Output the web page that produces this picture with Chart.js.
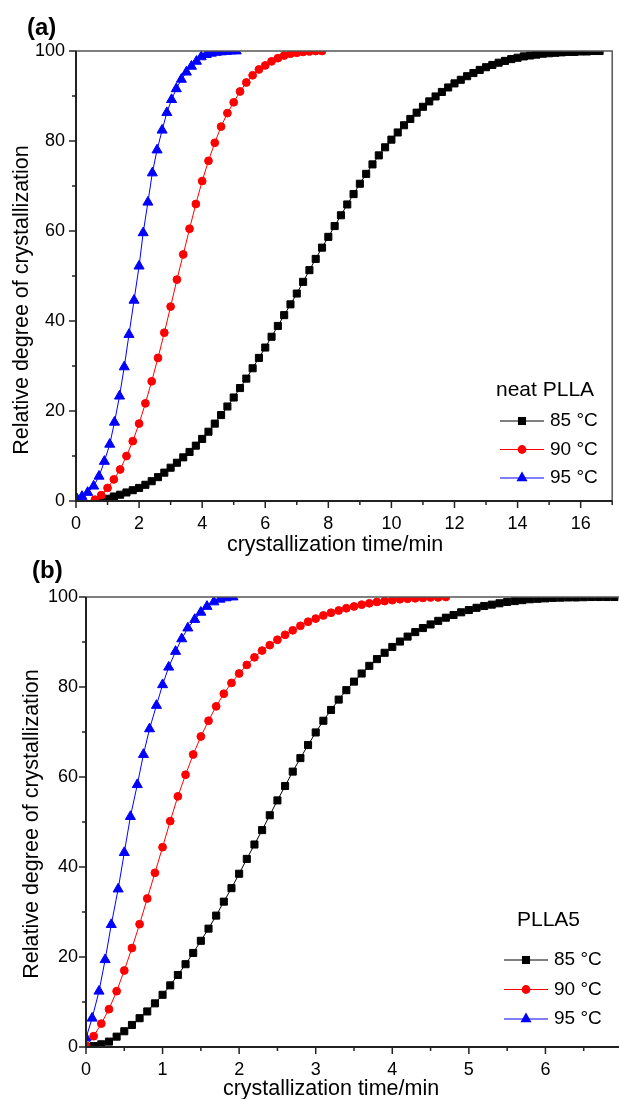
<!DOCTYPE html>
<html>
<head>
<meta charset="utf-8">
<title>Relative degree of crystallization</title>
<script src="https://cdn.jsdelivr.net/npm/chart.js@4.4.1/dist/chart.umd.min.js"></script>
<style>
  html, body { margin: 0; padding: 0; background: #fff; overflow: hidden; }
  body { width: 619px; height: 1099px; position: relative; font-family: "Liberation Sans", Arial, sans-serif; }
  canvas { position: absolute; left: 0; }
  #ca { top: 0; }
  #cb { top: 560px; }
  .tag { position: absolute; font-weight: bold; font-size: 24px; line-height: 24px; z-index: 2; }
</style>
</head>
<body>
<div class="tag" style="left:27px; top:15px;">(a)</div>
<div class="tag" style="left:32px; top:558px;">(b)</div>
<canvas id="ca" width="619" height="560"></canvas>
<canvas id="cb" width="630" height="560"></canvas>
<script>
// ---- data ----
const seriesLabels = ['85 °C', '90 °C', '95 °C'];
const xTitle = 'crystallization time/min';
const yTitle = 'Relative degree of crystallization';

// (a) neat PLLA
const tA85 = [0.8,1.0,1.2,1.4,1.6,1.8,2.0,2.2,2.4,2.6,2.8,3.0,3.2,3.4,3.6,3.8,4.0,4.2,4.4,4.6,
  4.8,5.0,5.2,5.4,5.6,5.8,6.0,6.2,6.4,6.6,6.8,7.0,7.2,7.4,7.6,7.8,8.0,8.2,8.4,8.6,
  8.8,9.0,9.2,9.4,9.6,9.8,10.0,10.2,10.4,10.6,10.8,11.0,11.2,11.4,11.6,11.8,12.0,12.2,12.4,12.6,
  12.8,13.0,13.2,13.4,13.6,13.8,14.0,14.2,14.4,14.6,14.8,15.0,15.2,15.4,15.6,15.8,16.0,16.2,16.4,16.6];
const yA85 = [0.2,0.5,1.0,1.4,1.9,2.4,2.9,3.6,4.4,5.3,6.3,7.4,8.5,9.7,10.9,12.3,13.8,15.4,17.2,19.1,
  21.0,23.0,25.1,27.2,29.5,31.8,34.1,36.5,38.9,41.3,43.7,46.1,48.7,51.3,53.8,56.3,58.7,61.1,63.5,65.9,
  68.2,70.5,72.7,74.8,76.8,78.6,80.3,81.9,83.5,84.9,86.3,87.6,88.8,89.9,90.9,91.9,92.8,93.6,94.4,95.1,
  95.8,96.4,96.9,97.4,97.8,98.2,98.5,98.8,99.0,99.2,99.4,99.5,99.6,99.7,99.8,99.8,99.9,99.9,100,100];
const tA90 = [0.6,0.8,1.0,1.2,1.4,1.6,1.8,2.0,2.2,2.4,2.6,2.8,3.0,3.2,3.4,3.6,3.8,4.0,4.2,4.4,
  4.6,4.8,5.0,5.2,5.4,5.6,5.8,6.0,6.2,6.4,6.6,6.8,7.0,7.2,7.4,7.6,7.8];
const yA90 = [0.3,1.3,2.9,4.8,7.0,10.0,13.3,17.2,21.7,26.6,31.8,37.4,43.2,49.2,54.8,60.5,66.0,71.1,75.6,79.6,
  83.2,86.2,88.6,91.0,93.0,94.6,95.9,96.8,97.7,98.4,99.0,99.4,99.6,99.8,99.9,100,100];
const tA95 = [0.03,0.19,0.37,0.56,0.73,0.90,1.07,1.22,1.38,1.53,1.68,1.84,2.0,2.13,2.28,2.42,2.57,
  2.73,2.88,3.03,3.18,3.34,3.50,3.66,3.82,3.97,4.13,4.29,4.45,4.61,4.77,4.93,5.08];
const yA95 = [0.5,1.0,1.9,3.3,5.5,8.8,12.6,17.5,23.3,29.8,37.0,44.6,52.2,59.6,66.4,72.9,78.0,
  82.4,86.3,89.2,91.6,93.7,95.3,96.6,97.7,98.7,99.2,99.5,99.7,99.8,99.9,100,100];

// (b) PLLA5
const tB85 = [0.0,0.1,0.2,0.3,0.4,0.5,0.6,0.7,0.8,0.9,1.0,1.1,1.2,1.3,1.4,1.5,1.6,1.7,1.8,1.9,
  2.0,2.1,2.2,2.3,2.4,2.5,2.6,2.7,2.8,2.9,3.0,3.1,3.2,3.3,3.4,3.5,3.6,3.7,3.8,3.9,
  4.0,4.1,4.2,4.3,4.4,4.5,4.6,4.7,4.8,4.9,5.0,5.1,5.2,5.3,5.4,5.5,5.6,5.7,5.8,5.9,
  6.0,6.1,6.2,6.3,6.4,6.5,6.6,6.7,6.8,6.9];
const yB85 = [0.0,0.2,0.6,1.2,2.3,3.5,4.9,6.4,7.9,9.7,11.6,13.7,16.0,18.4,20.9,23.6,26.3,29.2,32.3,35.3,
  38.5,41.8,45.0,48.2,51.5,54.8,58.0,61.2,64.2,67.1,69.9,72.5,74.9,77.2,79.3,81.2,83.0,84.7,86.2,87.6,
  88.9,90.1,91.2,92.2,93.1,93.9,94.7,95.4,96.0,96.6,97.1,97.6,98.0,98.3,98.6,98.9,99.1,99.3,99.5,99.6,
  99.7,99.8,99.85,99.9,99.9,99.95,100,100,100,100];
const tB90 = [0.0,0.1,0.2,0.3,0.4,0.5,0.6,0.7,0.8,0.9,1.0,1.1,1.2,1.3,1.4,1.5,1.6,1.7,1.8,1.9,
  2.0,2.1,2.2,2.3,2.4,2.5,2.6,2.7,2.8,2.9,3.0,3.1,3.2,3.3,3.4,3.5,3.6,3.7,3.8,3.9,
  4.0,4.1,4.2,4.3,4.4,4.5,4.6,4.7];
const yB90 = [0.3,2.4,5.2,8.4,12.4,17.0,22.0,27.3,33.0,38.7,44.4,50.2,55.7,60.5,65.0,69.0,72.5,75.7,78.5,80.9,
  83.0,84.9,86.6,88.1,89.3,90.5,91.6,92.6,93.6,94.5,95.2,95.9,96.5,97.0,97.5,97.9,98.3,98.6,98.9,99.1,
  99.3,99.5,99.6,99.7,99.8,99.9,99.9,100];
const tB95 = [0,0.08,0.17,0.25,0.33,0.42,0.5,0.58,0.67,0.75,0.83,0.92,1.0,1.08,1.17,1.25,1.33,1.42,1.5,1.58,
  1.67,1.75,1.83,1.92];
const yB95 = [2.0,6.4,12.4,19.4,27.2,35.1,43.2,51.2,58.3,65.0,70.7,75.9,80.5,84.4,87.9,90.7,93.1,95.0,96.6,97.9,
  98.9,99.5,99.8,100];

// axis ticks
const xTicksA = [0, 2, 4, 6, 8, 10, 12, 14, 16];
const xTicksB = [0, 1, 2, 3, 4, 5, 6];
const yTicks = [0, 20, 40, 60, 80, 100];

// ---- drawing ----
const FONT = '"Liberation Sans", Arial, sans-serif';
Chart.defaults.font.family = FONT;
Chart.defaults.color = '#000';

const styles = [
  { color: '#000000', point: 'rect', r: 5.0 },
  { color: '#ff0000', point: 'circle', r: 3.9 },
  { color: '#0000ff', point: 'triangle', r: 5.8 }
];

function mark(ctx, s, x, y) {
  ctx.fillStyle = s.color;
  ctx.beginPath();
  if (s.point === 'rect') {
    const h = s.r * Math.SQRT1_2 + 0.5;
    ctx.rect(x - h, y - h, 2 * h, 2 * h);
  } else if (s.point === 'triangle') {
    const r = s.r + 0.6;
    ctx.moveTo(x, y - r);
    ctx.lineTo(x + r * 0.866, y + r / 2);
    ctx.lineTo(x - r * 0.866, y + r / 2);
    ctx.closePath();
  } else {
    ctx.arc(x, y, s.r + 0.5, 0, Math.PI * 2);
  }
  ctx.fill();
}

// axes, frame, minor/major tick marks, axis titles and the in-plot legend
const frame = {
  id: 'frame',
  afterDraw(chart, args, o) {
    const { ctx, chartArea: a, scales: { x, y } } = chart;
    ctx.save();
    ctx.strokeStyle = '#555';
    ctx.lineWidth = 1.5;
    ctx.beginPath();
    ctx.moveTo(a.left, a.top);
    ctx.lineTo(a.right, a.top);
    ctx.lineTo(a.right, a.bottom);
    ctx.stroke();

    ctx.strokeStyle = '#222';
    ctx.lineWidth = 2;
    ctx.beginPath();
    ctx.moveTo(a.left, a.top);
    ctx.lineTo(a.left, a.bottom);
    ctx.lineTo(a.right, a.bottom);
    ctx.stroke();

    ctx.lineWidth = 1.5;
    const nx = Math.round((x.max - x.min) / o.xMinor);
    for (let i = 0; i <= nx; i++) {
      const v = x.min + i * o.xMinor;
      const major = Math.abs(v / o.xMajor - Math.round(v / o.xMajor)) < 1e-6;
      const px = x.getPixelForValue(v);
      ctx.beginPath();
      ctx.moveTo(px, a.bottom);
      ctx.lineTo(px, a.bottom + (major ? o.major : o.minor));
      ctx.stroke();
    }
    const ny = Math.round((y.max - y.min) / o.yMinor);
    for (let i = 0; i <= ny; i++) {
      const v = y.min + i * o.yMinor;
      const major = Math.abs(v / o.yMajor - Math.round(v / o.yMajor)) < 1e-6;
      const py = y.getPixelForValue(v);
      ctx.beginPath();
      ctx.moveTo(a.left, py);
      ctx.lineTo(a.left - (major ? o.major : o.minor), py);
      ctx.stroke();
    }

    // axis titles
    ctx.fillStyle = '#000';
    ctx.textBaseline = 'middle';
    ctx.textAlign = 'center';
    ctx.font = '21.5px ' + FONT;
    ctx.fillText(xTitle, o.xTitle[0], o.xTitle[1]);
    ctx.save();
    ctx.translate(o.yTitle[0], o.yTitle[1]);
    ctx.rotate(-Math.PI / 2);
    ctx.fillText(yTitle, 0, 0);
    ctx.restore();

    const lg = o.legend;
    ctx.textAlign = 'left';
    ctx.font = '21px ' + FONT;
    ctx.fillText(lg.title, lg.titleX, lg.titleY);
    ctx.font = '19px ' + FONT;
    chart.data.datasets.forEach((d, i) => {
      const ry = lg.rows[i];
      ctx.strokeStyle = d.borderColor;
      ctx.lineWidth = 1;
      ctx.beginPath();
      ctx.moveTo(lg.x0, ry);
      ctx.lineTo(lg.x1, ry);
      ctx.stroke();
      mark(ctx, styles[i], (lg.x0 + lg.x1) / 2, ry);
      ctx.fillStyle = '#000';
      ctx.fillText(d.label, lg.textX, ry);
    });
    ctx.restore();
  }
};

function makeChart(id, c) {
  const datasets = c.series.map((s, i) => ({
    label: seriesLabels[i],
    data: s.t.map((t, k) => ({ x: t, y: s.y[k] })),
    borderColor: styles[i].color,
    backgroundColor: styles[i].color,
    borderWidth: 1,
    pointStyle: styles[i].point,
    pointRadius: styles[i].r,
    pointBorderWidth: 1,
    pointBorderColor: styles[i].color,
    pointBackgroundColor: styles[i].color,
    tension: 0,
    order: 3 - i
  }));
  return new Chart(document.getElementById(id), {
    type: 'line',
    data: { datasets },
    options: {
      responsive: false,
      animation: false,
      events: [],
      layout: { padding: c.pad },
      plugins: { legend: { display: false }, tooltip: { enabled: false }, frame: c.frame },
      scales: {
        x: {
          type: 'linear', min: 0, max: c.xMax,
          afterFit: s => { s.height = c.xH; },
          afterBuildTicks: s => { s.ticks = c.xTicks.map(v => ({ value: v })); },
          grid: { display: false, drawTicks: false },
          border: { display: false },
          ticks: { padding: c.xPad, font: { size: 18 }, color: '#000', maxRotation: 0, autoSkip: false }
        },
        y: {
          min: 0, max: 100,
          afterFit: s => { s.width = c.yW; },
          afterBuildTicks: s => { s.ticks = yTicks.map(v => ({ value: v })); },
          grid: { display: false, drawTicks: false },
          border: { display: false },
          ticks: { padding: c.yPad, font: { size: 18 }, color: '#000' }
        }
      }
    },
    plugins: [frame]
  });
}

makeChart('ca', {
  series: [{ t: tA85, y: yA85 }, { t: tA90, y: yA90 }, { t: tA95, y: yA95 }],
  xMax: 17, xTicks: xTicksA,
  pad: { top: 51, right: 6, left: 0, bottom: 0 },
  xH: 59, yW: 76, xPad: 12, yPad: 11,
  frame: {
    xMinor: 1, xMajor: 2, yMinor: 10, yMajor: 20, major: 7, minor: 4,
    xTitle: [335, 545], yTitle: [22, 300],
    legend: { title: 'neat PLLA', titleX: 496, titleY: 390, rows: [421, 449.5, 478], x0: 500, x1: 544, textX: 550 }
  }
});

makeChart('cb', {
  series: [{ t: tB85, y: yB85 }, { t: tB90, y: yB90 }, { t: tB95, y: yB95 }],
  xMax: 7, xTicks: xTicksB,
  pad: { top: 37, right: 8, left: 0, bottom: 0 },
  xH: 73, yW: 86, xPad: 12, yPad: 8,
  frame: {
    xMinor: 0.5, xMajor: 1, yMinor: 10, yMajor: 20, major: 7, minor: 4,
    xTitle: [331, 529], yTitle: [32, 264],
    legend: { title: 'PLLA5', titleX: 517, titleY: 360, rows: [400, 429.5, 459], x0: 504, x1: 548, textX: 554 }
  }
});
</script>
</body>
</html>
